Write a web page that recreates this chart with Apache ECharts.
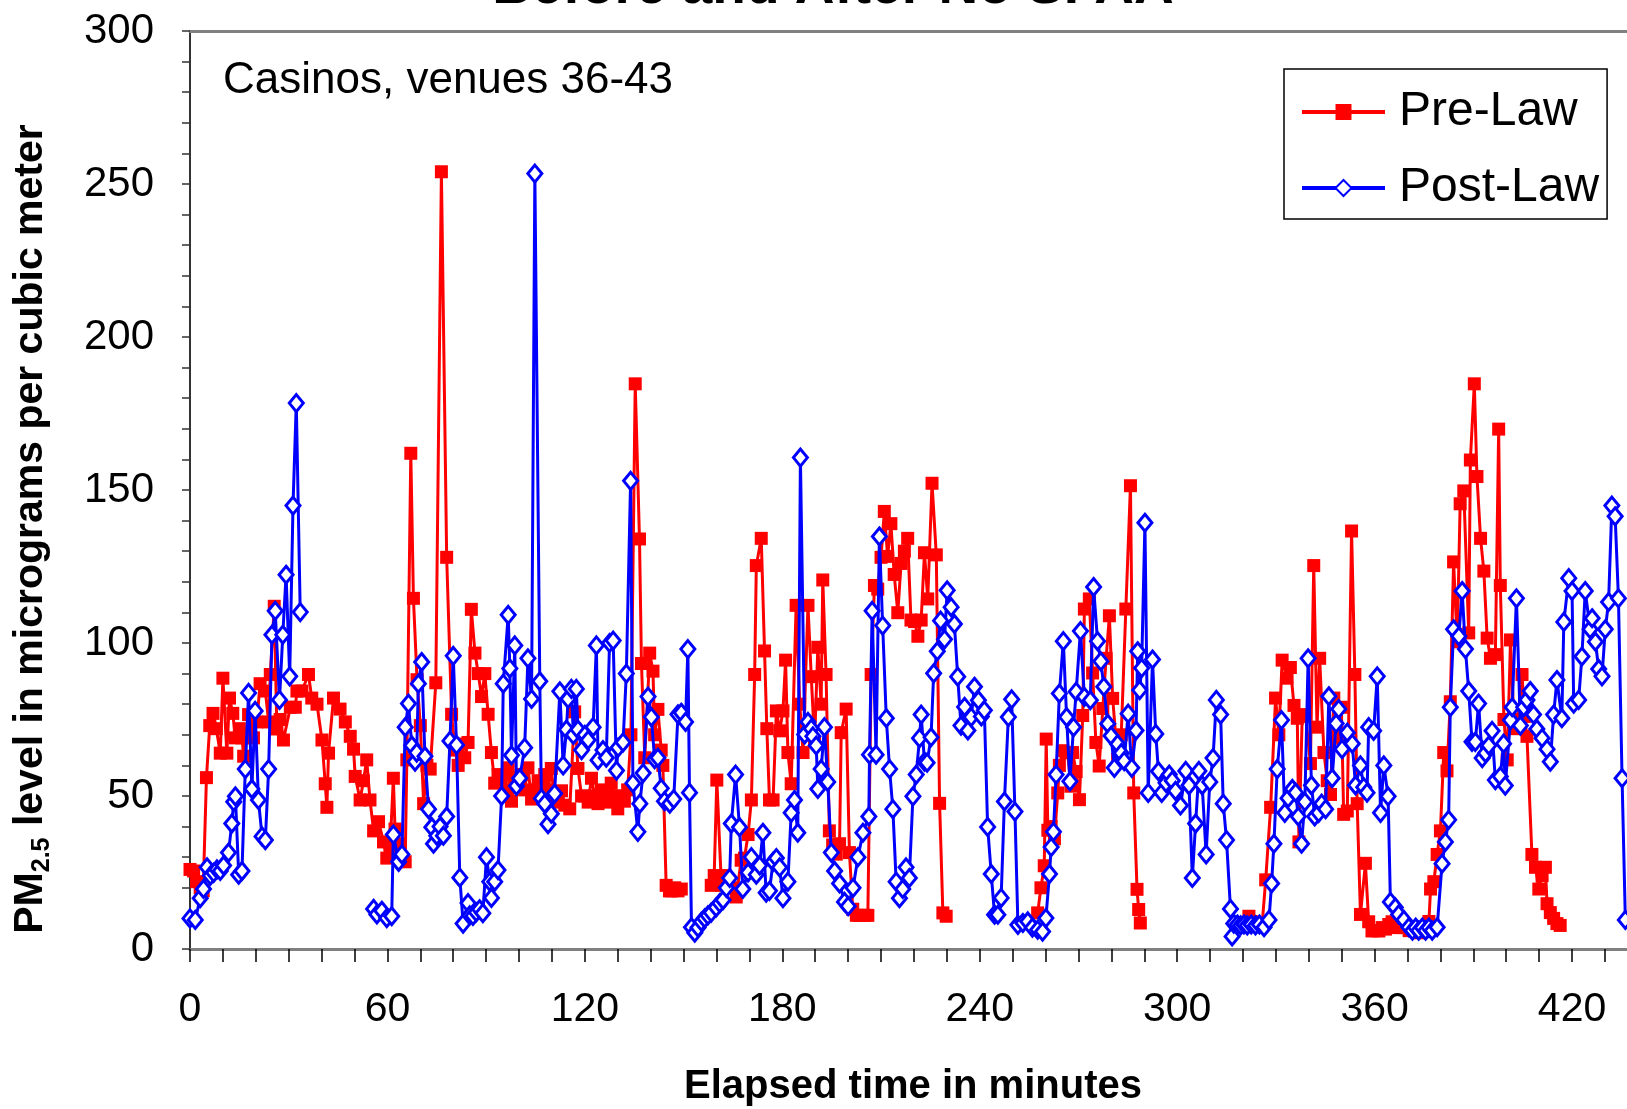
<!DOCTYPE html>
<html>
<head>
<meta charset="utf-8">
<script src="https://cdn.jsdelivr.net/npm/echarts@6/dist/echarts.min.js"></script>
<style>
  html, body { margin: 0; padding: 0; background: #fff; }
  #chart { width: 1627px; height: 1109px; }
</style>
</head>
<body>
<div id="chart"></div>
<script>
var myChart = echarts.init(document.getElementById('chart'));

var xLabelValues = [0, 60, 120, 180, 240, 300, 360, 420];
var xTickValues = [0,10,20,30,40,50,60,70,80,90,100,110,120,130,140,150,160,170,180,190,200,210,220,230,
  240,250,260,270,280,290,300,310,320,330,340,350,360,370,380,390,400,410,420,430];

// [minutes, PM2.5]; null value = gap between venues
var preLaw = [
  [0,26],[1.1,25.5],[2,22],[3.1,20],[4,19],[5,56],[6,73],[7,77],[8,72],[9.2,64],[10,88.5],[11.2,64],[12,82],[13,77],[13.8,69],
  [15,72],[15.8,69],[16.3,63],[17.8,76.6],[19.3,69],[20.3,74.2],[21.3,86.7],[22.9,84.3],[23.9,74.2],[24.4,89.7],[25.6,112],
  [26.4,71.9],[27.4,75],[28.4,68.3],[30.5,79],[32,79],[32.5,84.3],[34,84.3],[36,89.7],[37,82],[38.6,80],[40.1,68.3],[41.1,54],
  [41.6,46.3],[42.1,64],[43.6,82],[45.6,78.4],[47.2,74.2],[48.7,69.5],[49.7,65.3],[50.2,56.4],[51.7,48.7],[52.7,55],[53.7,61.8],
  [54.7,48.7],[55.8,38.6],[57.3,41.6],[58.8,35],[59.8,29.7],[60.8,33],[61.8,55.8],[62.3,39.2],[63.8,34.4],[65.4,28.5],[65.9,61.8],
  [67.1,162],[67.9,114.6],[69,88],[70,73],[71,47.5],[72,60],[73,58.8],[74.7,87],[76.4,254],[78,128],[79.5,76.7],[80.5,65],
  [81.5,60],[82.5,67],[83.5,62.5],[84.5,67.5],[85.5,111],[86.6,96.7],[87.6,90],[88.6,82.5],[89.6,90],[90.6,76.7],[91.6,64.2],
  [92.6,54.2],[93.6,57],[94.6,55.8],[95.6,52],[96.7,59.2],[97.7,48.3],[98.7,56],[99.7,54.2],[100.7,57],[101.7,52],[102.7,59.2],
  [103.8,49],[104.8,52],[105.8,55],[106.8,50],[107.8,57],[108.8,52],[109.8,59],[110.8,48],[111.8,50],[112.9,51.7],[113.9,47],
  [115.4,45.8],[116.9,77.5],[117.9,59],[119,50],[120,50],[121,48],[122,55.8],[123,50],[124,47.5],[125,52],[126,50],[127,48],
  [128,54.2],[129,50],[130,45.8],[131,50],[132,48.3],[133,52],[134,70],[135.3,184.7],[136.6,134],[137.2,93.3],[138.2,62.5],
  [139.7,96.7],[140.7,90.8],[141.2,70],[142.2,78.3],[143.2,65],[143.7,60],[144.7,20.8],[145.7,19],[146.5,19],[147.3,20],
  [148.3,19],[149.3,19.6],[153,null],
  [158.4,20.8],[159.3,24],[160.1,55.2],[161.5,20.8],[162.5,24],[163.5,22],[164.5,20],[166,17],[167.5,29],[168.5,29.7],
  [169.6,37.4],[170.6,48.7],[171.6,89.7],[172.1,125.3],[173.6,134.2],[174.6,97.4],[175.3,72],[176.1,48.7],[177.2,48.7],
  [178.2,77.8],[179.2,71.3],[180.2,77.8],[181,94.4],[181.7,64.2],[182.7,54],[184.2,112.3],[185.3,80],[186.3,64.2],[187.8,112.3],
  [188.8,89],[189.8,67.7],[190.8,98.6],[191.8,80],[192.3,120.6],[193.3,89.7],[194.3,38.6],[195.3,34],[196.4,31],[197.4,34.4],
  [197.9,70.7],[199.4,78.4],[200.4,31.5],[201.4,13],[202.5,11],[203.5,11],[205,11],[206,11],[207,89.7],[208,118.8],[209,117.6],
  [210,128],[211,143],[212,128.3],[213,139],[214,122.4],[215.1,109.9],[216.1,126],[217.1,130],[218.1,134.2],[219.1,107.5],
  [220.2,107],[221.2,102.2],[222.2,107.5],[223.2,129.5],[224.2,114.4],[225.5,152.2],[226.8,128.8],[227.8,47.6],[228.8,11.8],
  [229.8,10.7],[240,null],
  [257.6,11.8],[258.6,20],[259.6,27.2],[260.2,68.6],[260.7,38.8],[261.7,40],[262.7,36],[263.7,51],[264.2,60],[265.2,64.8],
  [266.7,64.2],[267.7,53.2],[268.2,64.2],[269.3,58],[270.3,48.8],[271.3,76.3],[271.8,111.1],[273.3,114.4],[274.3,90.2],
  [275.3,67.5],[276.3,59.8],[277.4,78.6],[278.4,95],[279.4,108.9],[280.4,81.9],[281.9,62],[283,70],[284.4,111.1],[285.8,151.4],
  [286.8,51],[287.8,19.5],[288.3,12.9],[288.8,8.5],[300,null],
  [321.8,10.7],[322.5,9],[323.3,8.3],[324.5,8],[325.8,7.7],[326.9,22.6],[328.4,46.3],[329.9,82],[330.9,70],[331.9,94.4],
  [333.4,88.5],[334.4,92],[335.5,79.6],[336.5,75.4],[337,35],[338,76],[339,76.6],[340.5,60.6],[341.5,125.3],[342.5,72.5],
  [343.3,95],[344.6,64.2],[345.6,55],[346.6,50.5],[347.6,82],[348.6,68.9],[349.9,79],[350.6,44],[351.7,45.1],[353,136.6],
  [354,89.7],[354.7,47.5],[355.7,11.3],[357.2,28],[358.2,8.9],[359.2,5.9],[360.3,6],[361.3,5.9],[362.3,7],[363.3,6.5],[364.3,8],
  [365.3,8.9],[366.3,7],[367.3,8],[368.3,7],[369.5,7],[370.5,6],[371.5,7],[372.4,6],[373.4,5.3],[374.5,6],[375.5,6],[376.5,9],
  [377,19.6],[378,22],[379,30.9],[380,38.6],[381,64.2],[382,58.2],[383,80.8],[384,126.5],[385.1,100.4],[386,145.5],[387.1,149.7],
  [388.6,103.3],[389.1,159.8],[390.3,184.7],[391.1,154.4],[392.2,134.2],[393.2,123.5],[394.2,101.6],[395.2,95],[396.7,96.2],
  [397.7,169.9],[398.2,118.8],[399.3,75],[400.3,61.8],[401.3,101],[402.3,75],[403.3,72],[404.8,89.7],[405.5,76],[406.3,69.5],
  [407.8,30.9],[408.9,26.7],[409.9,19.6],[410.9,24],[411.9,26.7],[412.4,14.8],[413.4,11.9],[414.4,10],[415.4,8.3],[416.4,7.7]
];

var postLaw = [
  [0,10],[1.6,9.5],[3.1,16.6],[4.1,19.6],[5.2,26.7],[6.2,24],[7.2,24.9],[8.2,26],[9.2,25.5],[10.2,27.3],[11.7,31.5],[12.7,41],
  [13.3,48.1],[13.8,49.9],[14.8,24.3],[15.8,25.5],[16.8,58.8],[17.8,83.7],[18.8,52.3],[19.8,77.8],[20.8,48.7],[21.9,36.8],
  [22.9,35.6],[23.9,58.8],[24.9,102.7],[25.9,110.5],[27.2,81.4],[28.2,102.7],[29.2,122.3],[30.3,89.1],[31.3,144.9],[32.3,178.4],
  [33.5,110.1],[45,null],
  [55.8,13.1],[56.8,11.3],[58.3,12.5],[59.8,10.1],[61.3,10.7],[61.8,37.4],[63.4,28.5],[64.4,30.9],[65.4,72.5],[66.4,80.2],
  [67.4,66.5],[68.4,61.2],[68.9,64.2],[69.4,86.7],[70.4,93.8],[71.4,63],[72.5,45.7],[73.5,39.8],[74,34.4],[75,37],[76,40],[77,37],
  [78,43.3],[79,68],[80,95.8],[81,66.7],[82,23.3],[83,8.3],[84.5,15],[85,11],[86,10.8],[87,12],[88,13],[89,11.7],[90.1,30],
  [91.1,22],[91.6,16.7],[92.6,22],[93.6,25.8],[94.7,50],[95.2,86.7],[96.7,109.2],[97.2,91.7],[97.7,63.3],[98.7,99.2],[99.2,53.3],
  [100.2,55.8],[101.7,65.8],[102.7,95],[103.8,81.7],[104.8,253.4],[106.3,87.5],[106.8,49.2],[107.8,47.5],[108.8,40.8],[109.8,44.2],
  [110.8,50.8],[112.4,84.2],[113.4,60],[114.4,71.7],[114.9,81.7],[115.9,85],[116.5,70],[117.4,85],[117.9,71.7],[119,65],[120,70],
  [121,68.3],[122.5,72.5],[123.5,99.2],[124,61.7],[125.5,65],[126.5,62.5],[127.5,100],[128.6,100.8],[129.6,58.3],[130.1,65.8],
  [131.6,67.5],[132.6,90],[133.9,153],[134.6,54.2],[136.1,38.3],[136.7,47.5],[137.7,57.5],[139.2,82.5],[140.2,75.8],[141.2,62],
  [142.2,62.5],[143.2,52.5],[144.2,48.3],[145.8,47.5],[147,49],[148.3,76.7],[149.3,77.2],[150.6,74.2],[151.3,98],[151.8,51.1],
  [152.4,7.1],[153.4,5.3],[154.4,7],[155.4,8.9],[156.4,10],[157.4,11],[158.4,11.9],[159.9,13.6],[161,15],[162,16],[163,20],
  [164,23.2],[164.5,41],[165.8,57],[167,39.8],[168,19.6],[169.6,25],[170.6,30],[172.1,24.3],[173.1,27.3],[174.1,38],[175.1,18.4],
  [176.1,19],[177.2,28.5],[178.2,29.7],[179.2,26.7],[180.2,16.6],[181.7,22],[182.7,44.5],[183.7,48.7],[184.7,38],[185.5,160.6],
  [186.8,70.1],[187.8,74.2],[188.8,72],[189.3,69.5],[190.3,66.5],[190.8,52.3],[191.8,58.8],[192.8,72.5],[193.8,54.6],[194.9,31.5],
  [195.9,25.5],[197.4,21.4],[198.9,15.4],[200,14],[201.5,20],[203,30],[204.5,38],[206.3,43.3],[206.5,63.5],[207.3,110.5],
  [208.5,63.5],[209.5,134.8],[210.5,105.7],[211.6,75.4],[212.6,58.8],[213.6,45.7],[214.6,22],[215.6,16.6],[216.6,19.6],
  [217.6,26.7],[218.6,23.2],[219.7,49.9],[220.7,57],[221.7,68.9],[222.2,76.6],[223.2,61.2],[224,60.9],[225.2,69.2],[226,90.1],
  [227.1,97.3],[228.1,107.3],[229.3,101.2],[230.1,117.2],[231.3,111.7],[232.3,106.2],[233.3,89],[234.3,73],[235.4,79.1],
  [236.4,71.4],[237.4,75.8],[238.4,85.7],[239.6,81.3],[240.5,76],[241.4,78],[242.4,39.9],[243.5,24.5],[244.5,11.2],[245.5,11.2],
  [246.5,16.7],[247.5,48.2],[248.7,75.8],[249.7,81.6],[250.7,44.9],[251.6,7.9],[253.1,8.5],[254.6,9],[256,7],[257.6,6.3],
  [259.1,5.7],[260.1,10.1],[261.2,24.5],[261.7,33.3],[262.4,38.3],[263.2,57],[264.2,83.5],[265.4,100.6],[266.4,75.8],[267.4,54.8],
  [268.5,72.5],[269.3,84.1],[270.6,103.9],[271.8,82.4],[273.6,81.3],[274.6,118.3],[275.8,100.6],[276.8,94],[277.7,85.7],
  [278.9,73.6],[279.9,69.7],[280.9,59.2],[281.9,67],[283,64],[283.9,61.4],[285.1,76.9],[286.2,59.2],[287.5,71.4],[288,97.3],
  [288.6,84.6],[289.2,91.8],[290.2,139.3],[291.2,51],[292.5,94.6],[293.5,70.3],[294.3,58.1],[295.3,51],[296.6,54.3],[297.6,57],
  [298.5,55],[299.5,51.7],[301,46.9],[302.6,58.2],[303.6,53.5],[304.6,23.2],[305.6,41],[306.6,58.2],[307.6,53.5],[308.8,30.9],
  [309.9,54.6],[310.9,62.4],[311.9,81.4],[313.2,76.6],[314,47.5],[315,35.6],[316.2,13.1],[316.7,4.1],[317.2,8.3],[318.3,8],
  [319.3,7.7],[320.3,8],[321.3,7.7],[322.5,8],[323.8,7.7],[325,8],[326.4,7.1],[327.9,9.5],[328.7,21.4],[329.4,34.4],[330.4,58.8],
  [331.7,74.8],[332.7,44.5],[333.7,49.3],[335,52.3],[336,51.1],[336.8,43.3],[337.8,34.4],[338.8,48.1],[339.8,95],[340.8,53.5],
  [341.8,43.3],[343,44.5],[343.9,47.5],[345.1,45.7],[346.1,82.6],[347.1,55.8],[348.3,73.7],[349.1,78.4],[350.1,65.3],[351.7,70.7],
  [353.2,67.1],[354.2,53.5],[355.7,60],[356.7,52.9],[357.7,51.1],[358.2,72.5],[359.7,71.3],[360.8,89.1],[361.8,44.5],[362.8,60],
  [364.1,49.9],[364.8,15.4],[366.3,13.6],[367.3,11.3],[368.9,9.5],[370.4,7.1],[371.5,6],[372.5,7],[373.4,6],[374.5,7],[375.5,6],
  [376.5,7],[377.5,6],[379,7.1],[380.5,27.9],[381.5,35],[382.5,42.2],[383,79],[384,104.5],[385.6,102.2],[386.6,117],[387.6,98],
  [388.6,84.3],[389.6,67.7],[390.6,67.7],[391.6,80.2],[392.7,62.4],[393.7,64],[394.7,66.5],[395.7,71.3],[396.7,55.2],[398.2,56.4],
  [399.2,67.1],[399.7,53.4],[401.3,74.8],[401.8,79],[403.1,114.6],[404.3,73],[405.3,79],[406.3,81.4],[407.3,84.3],[408.3,76.6],
  [409.3,71.9],[410.9,68.9],[412.4,65.3],[413.4,61.2],[414.4,76.6],[415.4,87.9],[416.9,75.4],[417.5,106.9],[419,121.2],[420,117],
  [420.5,80.2],[422,81.4],[423,95.6],[424,117],[425.5,104.5],[426.1,108.1],[427.1,100.4],[428.1,91.5],[429.1,89.1],[430.1,104.5],
  [431.1,113.4],[432.1,144.9],[433.1,141.4],[434.1,114.6],[435.2,55.8],[436.2,9.5]
];

var FONT = '"Liberation Sans", Arial, sans-serif';

function toSeries(arr) {
  return arr.map(function (p) { return [p[0], p[1] === null ? '-' : p[1]]; });
}

var option = {
  animation: false,
  backgroundColor: '#fff',
  grid: {
    left: 190,
    top: 31,
    bottom: 160,
    right: 0
  },
  legend: {
    orient: 'vertical',
    left: 1284,
    top: 69,
    itemWidth: 83,
    itemHeight: 20,
    itemGap: 20,
    padding: [15, 8, 3, 16],
    borderColor: '#000',
    borderWidth: 1.5,
    backgroundColor: '#fff',
    lineStyle: { width: 4 },
    textStyle: {
      fontFamily: FONT,
      fontSize: 48,
      lineHeight: 56,
      color: '#000',
      padding: [0, 0, 0, 9]
    },
    data: ['Pre-Law', 'Post-Law']
  },
  xAxis: [
    {
      type: 'value',
      min: 0,
      max: 436.7,
      interval: 60,
      axisLine: { lineStyle: { color: '#808080', width: 3 } },
      axisTick: { length: 13, customValues: xTickValues, lineStyle: { color: '#000', width: 1.5 } },
      splitLine: { show: false },
      axisLabel: { fontFamily: FONT, fontSize: 41, color: '#000', margin: 40, customValues: xLabelValues }
    },
    {
      // plot area top border
      type: 'value',
      position: 'top',
      min: 0,
      max: 436.7,
      axisLine: { show: true, lineStyle: { color: '#808080', width: 3 } },
      axisTick: { show: false },
      axisLabel: { show: false },
      splitLine: { show: false }
    }
  ],
  yAxis: {
    type: 'value',
    min: 0,
    max: 300,
    interval: 50,
    axisLine: { show: true, lineStyle: { color: '#333', width: 2 } },
    axisTick: { show: true, length: 8, lineStyle: { color: '#333', width: 1.5 } },
    minorTick: { show: true, splitNumber: 5, length: 8, lineStyle: { color: '#333', width: 1.5 } },
    splitLine: { show: false },
    axisLabel: { fontFamily: FONT, fontSize: 42, color: '#000', margin: 36 }
  },
  graphic: [
    {
      type: 'text', x: 833, y: 15,
      style: { text: 'Before and After No SFAA', font: 'bold 55px ' + FONT, fill: '#000', align: 'center', verticalAlign: 'bottom' }
    },
    {
      type: 'text', x: 223, y: 81,
      style: { text: 'Casinos, venues 36-43', font: '44px ' + FONT, fill: '#000', align: 'left', verticalAlign: 'middle' }
    },
    {
      type: 'text', x: 913, y: 1087,
      style: { text: 'Elapsed time in minutes', font: 'bold 40px ' + FONT, fill: '#000', align: 'center', verticalAlign: 'middle' }
    },
    {
      type: 'text', x: 31, y: 529, rotation: Math.PI / 2,
      style: {
        text: '{b|PM}{s|2.5}{b| level in micrograms per cubic meter}',
        align: 'center', verticalAlign: 'middle',
        rich: {
          b: { fontFamily: FONT, fontWeight: 'bold', fontSize: 41, lineHeight: 48, fill: '#000' },
          s: { fontFamily: FONT, fontWeight: 'bold', fontSize: 25, lineHeight: 25, verticalAlign: 'bottom', fill: '#000' }
        }
      }
    }
  ],
  series: [
    {
      name: 'Pre-Law',
      type: 'line',
      data: toSeries(preLaw),
      connectNulls: false,
      showSymbol: true,
      showAllSymbol: true,
      symbol: 'rect',
      symbolSize: 13,
      itemStyle: { color: '#ff0000' },
      lineStyle: { color: '#ff0000', width: 3 },
      z: 2
    },
    {
      name: 'Post-Law',
      type: 'line',
      data: toSeries(postLaw),
      connectNulls: false,
      showSymbol: true,
      showAllSymbol: true,
      symbol: 'diamond',
      symbolSize: [14, 17],
      itemStyle: { color: '#ffffff', borderColor: '#0000ff', borderWidth: 3 },
      lineStyle: { color: '#0000ff', width: 3 },
      z: 3
    }
  ]
};

myChart.setOption(option);
</script>
</body>
</html>
